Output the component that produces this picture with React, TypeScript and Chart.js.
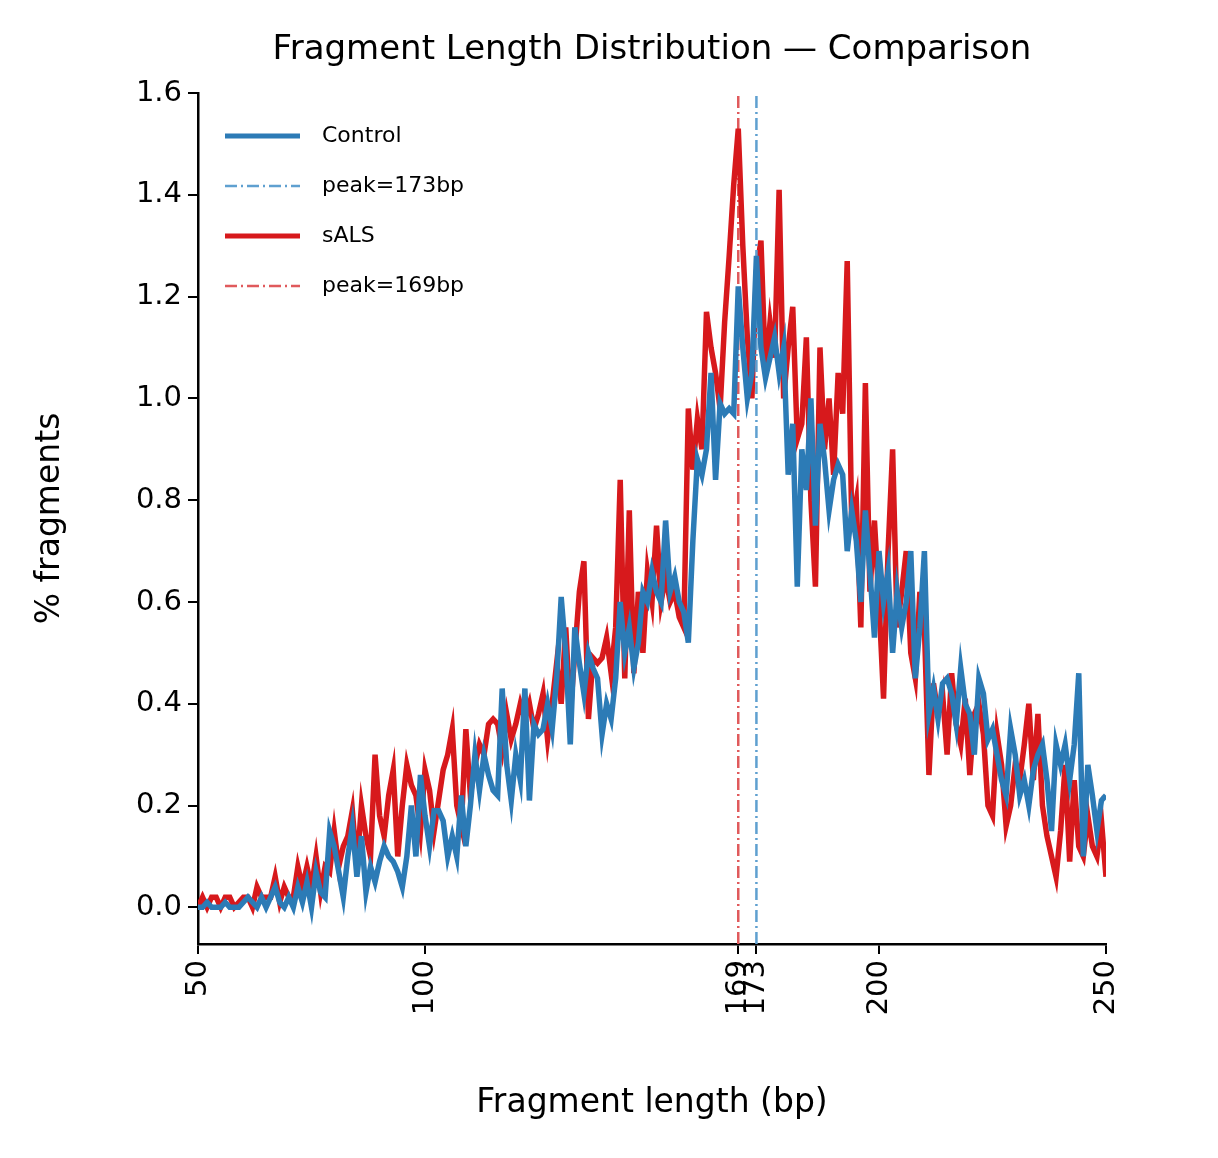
import React, { useEffect, useRef } from "react";
import { Chart, registerables } from "chart.js";
Chart.register(...registerables);

const lengths: number[] = Array.from({ length: 201 }, (_, i) => 50 + i);
const control: number[] = [
  0,0,0.01,0,0,0,0.01,0,0,0,
  0.01,0.02,0.01,0,0.02,0,0.02,0.04,0.01,0,
  0.02,0,0.04,0.01,0.05,0,0.07,0.03,0.02,0.15,
  0.12,0.07,0.02,0.1,0.16,0.06,0.14,0.03,0.08,0.05,
  0.09,0.12,0.1,0.09,0.07,0.04,0.1,0.2,0.1,0.26,
  0.18,0.12,0.19,0.19,0.17,0.1,0.14,0.1,0.22,0.12,
  0.2,0.3,0.23,0.3,0.26,0.23,0.22,0.43,0.28,0.21,
  0.3,0.25,0.43,0.21,0.36,0.34,0.35,0.4,0.35,0.45,
  0.61,0.5,0.32,0.55,0.48,0.42,0.5,0.47,0.45,0.34,
  0.4,0.37,0.45,0.6,0.5,0.55,0.47,0.52,0.62,0.6,
  0.66,0.62,0.6,0.76,0.62,0.65,0.6,0.58,0.52,0.72,
  0.88,0.85,0.9,1.05,0.84,0.99,0.97,0.98,0.97,1.22,
  1.1,1.0,1.05,1.28,1.1,1.04,1.08,1.12,1.05,1.1,
  0.85,0.95,0.63,0.9,0.82,1.0,0.75,0.95,0.88,0.78,
  0.84,0.87,0.85,0.7,0.78,0.72,0.6,0.78,0.66,0.53,
  0.7,0.6,0.66,0.5,0.62,0.55,0.6,0.7,0.45,0.55,
  0.7,0.38,0.43,0.37,0.44,0.45,0.42,0.36,0.47,0.4,
  0.38,0.3,0.45,0.42,0.33,0.35,0.3,0.25,0.22,0.35,
  0.3,0.22,0.25,0.2,0.27,0.3,0.32,0.25,0.15,0.32,
  0.28,0.32,0.25,0.32,0.46,0.1,0.28,0.22,0.15,0.21,
  0.22,
];
const sals: number[] = [
  0,0.02,0,0.02,0.02,0,0.02,0.02,0,0.01,
  0.02,0.02,0,0.04,0.02,0.02,0.02,0.06,0.01,0.04,
  0.02,0.02,0.08,0.04,0.08,0.04,0.1,0.03,0.08,0.07,
  0.15,0.08,0.12,0.14,0.19,0.08,0.2,0.14,0.1,0.3,
  0.18,0.14,0.22,0.27,0.1,0.2,0.28,0.24,0.22,0.15,
  0.27,0.23,0.15,0.21,0.27,0.3,0.35,0.2,0.16,0.35,
  0.22,0.28,0.32,0.3,0.36,0.37,0.36,0.31,0.38,0.33,
  0.36,0.4,0.37,0.4,0.35,0.38,0.42,0.33,0.4,0.48,
  0.4,0.55,0.38,0.5,0.62,0.68,0.37,0.49,0.48,0.49,
  0.53,0.46,0.55,0.84,0.45,0.78,0.46,0.62,0.5,0.66,
  0.6,0.75,0.6,0.65,0.6,0.62,0.57,0.55,0.98,0.86,
  0.96,0.9,1.17,1.1,1.05,0.98,1.15,1.28,1.42,1.53,
  1.3,1.12,1.0,1.25,1.31,1.05,1.15,1.08,1.41,1.0,
  1.1,1.18,0.92,0.95,1.12,0.8,0.63,1.1,0.9,1.0,
  0.85,1.05,0.97,1.27,0.75,0.8,0.55,1.03,0.62,0.76,
  0.6,0.41,0.7,0.9,0.55,0.62,0.7,0.5,0.45,0.62,
  0.55,0.26,0.44,0.38,0.42,0.3,0.46,0.36,0.32,0.41,
  0.26,0.38,0.4,0.34,0.2,0.18,0.34,0.28,0.16,0.2,
  0.28,0.25,0.32,0.4,0.25,0.38,0.2,0.14,0.1,0.06,
  0.15,0.28,0.09,0.25,0.12,0.1,0.18,0.12,0.1,0.17,
  0.06,
];
const peakControl = 173;
const peakSals = 169;
const xTicks: number[] = [50, 100, 169, 173, 200, 250];
const yTicks: number[] = [0, 0.2, 0.4, 0.6, 0.8, 1.0, 1.2, 1.4, 1.6];
const Y_MIN = -0.072;
const Y_MAX = 1.6;

const BLUE = "#2c7bb6";
const RED = "#d7191c";
const BLUE_L = "#5fa0d0";
const RED_L = "#e05a5c";
const FONT = "'DejaVu Sans', sans-serif";

const legendItems = [
  { label: "Control", color: BLUE, width: 5, dash: [] as number[] },
  { label: "peak=" + peakControl + "bp", color: BLUE_L, width: 2.5, dash: [12, 4, 2, 4] },
  { label: "sALS", color: RED, width: 5, dash: [] as number[] },
  { label: "peak=" + peakSals + "bp", color: RED_L, width: 2.5, dash: [12, 4, 2, 4] },
];

const textPlugin = {
  id: "texts",
  afterDraw(chart: any) {
    const ctx = chart.ctx;
    const a = chart.chartArea;
    ctx.save();
    ctx.fillStyle = "#000";
    ctx.textAlign = "center";
    ctx.textBaseline = "middle";
    ctx.font = `34px ${FONT}`;
    ctx.fillText("Fragment Length Distribution — Comparison", 652, 50);
    ctx.font = `33px ${FONT}`;
    ctx.fillText("Fragment length (bp)", (a.left + a.right) / 2, 1103);
    ctx.translate(50, (a.top + a.bottom) / 2);
    ctx.rotate(-Math.PI / 2);
    ctx.fillText("% fragments", 0, 0);
    ctx.restore();
    ctx.save();
    ctx.font = `22px ${FONT}`;
    ctx.textBaseline = "middle";
    legendItems.forEach((it, i) => {
      const y = 136 + i * 50;
      ctx.beginPath();
      ctx.strokeStyle = it.color;
      ctx.lineWidth = it.width;
      ctx.setLineDash(it.dash);
      ctx.moveTo(225, y);
      ctx.lineTo(300, y);
      ctx.stroke();
      ctx.setLineDash([]);
      ctx.fillStyle = "#000";
      ctx.fillText(it.label, 322, y);
    });
    ctx.restore();
  },
};

export default function App() {
  const ref = useRef<HTMLCanvasElement | null>(null);
  useEffect(() => {
    if (!ref.current) return;
    const chart = new Chart(ref.current, {
      type: "line",
      data: {
        datasets: [
          { data: lengths.map((x, i) => ({ x, y: control[i] })), borderColor: BLUE, borderWidth: 5.5, pointRadius: 0, tension: 0 },
          { data: [{ x: peakControl, y: Y_MIN }, { x: peakControl, y: Y_MAX }], borderColor: BLUE_L, borderWidth: 2.5, borderDash: [12, 4, 2, 4], pointRadius: 0 },
          { data: lengths.map((x, i) => ({ x, y: sals[i] })), borderColor: RED, borderWidth: 5.5, pointRadius: 0, tension: 0 },
          { data: [{ x: peakSals, y: Y_MIN }, { x: peakSals, y: Y_MAX }], borderColor: RED_L, borderWidth: 2.5, borderDash: [12, 4, 2, 4], pointRadius: 0 },
        ],
      },
      options: {
        animation: false,
        responsive: false,
        layout: { padding: { left: 0, right: 112, top: 93, bottom: 0 } },
        plugins: { legend: { display: false }, tooltip: { enabled: false } },
        scales: {
          x: {
            type: "linear",
            min: 50,
            max: 250,
            afterBuildTicks: (s: any) => { s.ticks = xTicks.map((v) => ({ value: v })); },
            afterFit: (s: any) => { s.height = 1158 - 944; },
            ticks: { font: { size: 29, family: FONT }, color: "#000", minRotation: 90, maxRotation: 90, padding: 6, callback: (v: any) => String(v) },
            grid: { display: true, drawOnChartArea: false, drawTicks: true, tickLength: 10, color: "#000", lineWidth: 2 },
            border: { display: true, color: "#000", width: 2.5 },
          },
          y: {
            min: Y_MIN,
            max: Y_MAX,
            afterBuildTicks: (s: any) => { s.ticks = yTicks.map((v) => ({ value: v })); },
            afterFit: (s: any) => { s.width = 198; },
            ticks: { font: { size: 29, family: FONT }, color: "#000", padding: 6, callback: (v: any) => Number(v).toFixed(1) },
            grid: { display: true, drawOnChartArea: false, drawTicks: true, tickLength: 10, color: "#000", lineWidth: 2 },
            border: { display: true, color: "#000", width: 2.5 },
          },
        },
      },
      plugins: [textPlugin],
    } as any);
    return () => chart.destroy();
  }, []);
  return (
    <div style={{ position: "absolute", left: 0, top: 0, width: 1218, height: 1158, background: "#fff" }}>
      <canvas ref={ref} width={1218} height={1158} style={{ width: 1218, height: 1158 }} />
    </div>
  );
}
